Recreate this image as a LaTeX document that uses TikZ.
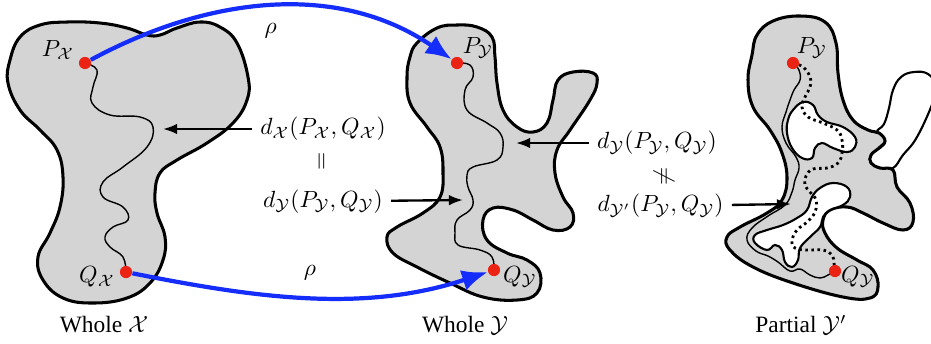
\documentclass[tikz,border=0pt]{standalone}
\usepackage{fontspec}
\setmainfont{Liberation Serif}
\usepackage{graphicx}
\usetikzlibrary{arrows.meta}
\usetikzlibrary{positioning}
\definecolor{mapblue}{RGB}{20,45,250}
\definecolor{spotred}{RGB}{235,35,20}
\definecolor{blobgray}{RGB}{212,212,212}
\newcommand{\cX}{\mathcal X}
\newcommand{\cY}{\mathcal Y}

\begin{document}
\begin{tikzpicture}[x=0.015cm,y=-0.015cm,
  blob/.style={fill=blobgray,draw,line width=1.3pt},
  hole/.style={fill=white,draw,line width=0.9pt},
  geod/.style={line width=0.6pt},
  geodot/.style={line width=1.2pt,dash pattern=on 1.1pt off 1.5pt},
  spot/.style={circle,fill=spotred,inner sep=0pt,minimum size=5.2pt},
  mapto/.style={draw=mapblue,line width=1.8pt,-{Latex[length=11pt,width=9pt]}},
  pointer/.style={draw,line width=1pt,-{Latex[length=6pt,width=4.5pt]}}]
  \useasboundingbox (0,0) rectangle (931,343);

  % the three spaces
  \draw[blob] plot[smooth cycle,tension=0.7] coordinates {
    (8,83) (10,60) (20,37) (40,25) (67,22) (100,23) (127,28) (147,35)
    (160,35) (177,28) (200,22) (220,27) (237,43) (248,77) (247,100)
    (233,123) (207,143) (177,160) (160,173) (155,193) (157,213) (165,237)
    (163,260) (150,283) (127,298) (93,303) (63,298) (43,280) (38,257)
    (50,233) (60,207) (63,177) (57,150) (40,130) (20,110)};
  \draw[blob] plot[smooth cycle,tension=0.7] coordinates {
    (417,43) (437,28) (457,25) (477,27) (492,37) (495,57) (497,83)
    (503,110) (517,127) (533,132) (547,123) (553,100) (558,80) (573,72)
    (593,73) (597,83) (590,100) (570,130) (557,150) (555,173) (563,197)
    (573,213) (570,227) (553,230) (533,220) (513,210) (493,208) (483,220)
    (487,240) (507,253) (527,260) (540,273) (537,293) (517,300) (483,297)
    (450,283) (417,267) (393,253) (387,237) (397,227) (423,213) (440,197)
    (443,173) (440,147) (427,127) (410,103) (407,77) (410,57)};
  \draw[hole] plot[smooth cycle,tension=0.7] coordinates {
    (877,132) (884,124) (889,108) (893,90) (901,77) (914,72) (928,74)
    (936,86) (933,102) (917,137) (903,155) (893,168) (880,168) (870,162)
    (872,153) (880,148) (885,141)};
  \draw[blob] plot[smooth cycle,tension=0.7] coordinates {
    (757,35) (773,21) (800,16) (825,22) (836,43) (838,73) (843,100)
    (853,120) (868,130) (879,133) (885,141) (879,148) (871,155) (871,163)
    (880,168) (893,170) (897,187) (910,203) (913,222) (903,230) (883,223)
    (863,213) (847,207) (830,210) (823,220) (825,233) (837,248) (857,260)
    (873,270) (878,287) (870,298) (843,297) (793,283) (753,267) (730,250)
    (727,237) (740,227) (767,213) (782,200) (787,178) (782,153) (770,130)
    (753,107) (748,80) (752,55)};
  \draw[hole] plot[smooth cycle,tension=0.7] coordinates {
    (803,102) (813,105) (818,115) (827,122) (843,127) (855,137) (855,147)
    (847,152) (833,148) (822,143) (815,148) (812,158) (802,158) (792,148)
    (787,133) (788,120) (793,110)};
  \draw[hole] plot[smooth cycle,tension=0.7] coordinates {
    (833,183) (847,187) (850,197) (843,205) (830,210) (823,217) (820,227)
    (810,237) (800,248) (798,260) (792,267) (785,262) (782,250) (775,245)
    (767,250) (755,243) (755,235) (767,230) (783,225) (797,218) (807,210)
    (812,197) (820,188)};

  % geodesics
  \coordinate (pX) at (85,63);
  \coordinate (qX) at (126,272);
  \coordinate (pY) at (457,63);
  \coordinate (qY) at (494,270);
  \coordinate (pYp) at (793,63);
  \coordinate (qYp) at (835,271);
  \draw[geod] plot[smooth,tension=0.7] coordinates {
    (pX) (97,70) (93,87) (92,103) (110,115) (140,117) (153,127)
    (147,147) (123,167) (103,182) (103,197) (123,207) (128,220) (113,227)
    (105,237) (110,247) (123,257) (qX)};
  \draw[geod] plot[smooth,tension=0.7] coordinates {
    (pY) (470,65) (473,77) (465,90) (467,110) (487,123) (500,133)
    (503,147) (497,160) (473,167) (467,175) (468,187) (473,200) (470,210)
    (457,220) (455,233) (458,245) (480,250) (492,257) (qY)};
  \draw[geod] plot[smooth,tension=0.7] coordinates {
    (pYp) (799,70) (800,80) (794,90) (790,100) (786,112) (782,127)
    (786,143) (796,157) (799,168) (795,180) (792,192) (785,205) (768,216)
    (752,228) (747,240) (756,251) (768,256) (778,262) (790,271) (800,269)
    (810,275) (820,278) (828,275) (qYp)};
  \draw[geodot] plot[smooth,tension=0.7] coordinates {
    (pYp) (803,67) (810,77) (810,87) (805,97) (802,107) (808,117)
    (823,123) (837,130) (842,140) (842,153) (838,163) (827,168) (813,169)
    (806,176) (805,185) (810,192) (816,200) (815,212) (807,222) (797,230)
    (792,240) (795,248) (807,250) (823,250) (832,255) (834,263) (qYp)};

  % end points
  \node (PX) [spot] at (pX) {};
  \node (QX) [spot] at (qX) {};
  \node (PY) [spot] at (pY) {};
  \node (QY) [spot] at (qY) {};
  \node (PYp) [spot] at (pYp) {};
  \node (QYp) [spot] at (qYp) {};

  \node (PXl) at (58,50) {$P_{\cX}$};
  \node (QXl) at (97,277) {$Q_{\cX}$};
  \node (PYl) at (478,48) {$P_{\cY}$};
  \node (QYl) at (520,277) {$Q_{\cY}$};
  \node (PYpl) at (812,48) {$P_{\cY}$};
  \node (QYpl) at (858,277) {$Q_{\cY}$};

  % the map
  \draw[mapto] (PX) .. controls (205,-2) and (336,-20) .. (PY)
    node[midway,below=3pt,text=black] (rhoA) {$\rho$};
  \draw[mapto] (QX) .. controls (256,298) and (364,313) .. (QY)
    node[midway,above=3pt,text=black] (rhoB) {$\rho$};

  % distances
  \node (dX) at (323,129) {$d_{\cX}(P_{\cX},Q_{\cX})$};
  \node (eqA) [below=-2pt of dX] {\rotatebox{90}{$=$}};
  \node (dYa) [below=1pt of eqA] {$d_{\cY}(P_{\cY},Q_{\cY})$};
  \node (dYb) at (657,143) {$d_{\cY}(P_{\cY},Q_{\cY})$};
  \node (neq) [below=-1.5pt of dYb,xshift=3pt] {\rotatebox{90}{$\neq$}};
  \node (dYp) [below=-3.5pt of neq,xshift=-1.5pt] {$d_{\cY'}(P_{\cY},Q_{\cY})$};
  \coordinate (tX) at (163,129);
  \coordinate (tY) at (463,200);
  \coordinate (tYb) at (516,143);
  \coordinate (tYp) at (791,204);
  \draw[pointer] (dX) -- (tX);
  \draw[pointer] (dYa) -- (tY);
  \draw[pointer] (dYb) -- (tYb);
  \draw[pointer] (dYp) -- (tYp);

  \node (capX) at (104,325) {Whole $\cX$};
  \node (capY) at (465,325) {Whole $\cY$};
  \node (capYp) at (801,325) {Partial $\cY'$};
\end{tikzpicture}
\end{document}
